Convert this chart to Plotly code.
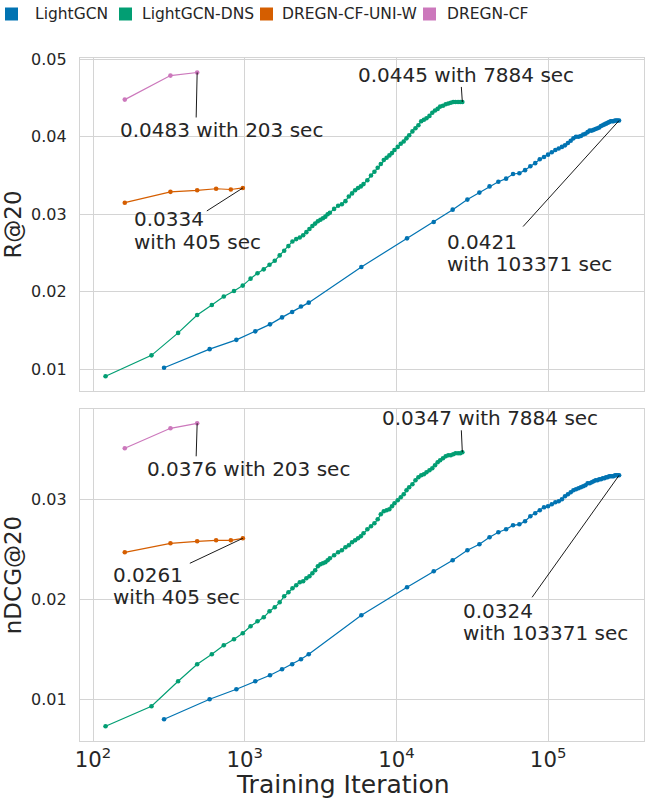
import plotly.graph_objects as go
import math

# ---------------- data ----------------
lgcn_iter = [294, 587, 881, 1174, 1468, 1762, 2055, 2349, 2642,
             5872, 11744, 17616, 23488, 29360, 35232, 41104, 46976, 52848, 58720,
             64592, 70464, 76336, 82208, 88080, 93952, 99824, 105696, 111568, 117440,
             123312, 129184, 135056, 140928, 146800, 152672, 158544, 164416, 170288, 176160,
             182032, 187904, 193776, 199648, 205520, 211392, 217264, 223136, 229008, 234880,
             240752, 246624, 252496, 258368, 264240, 270112, 275984, 281856, 287728, 293600]
lgcn_recall = [0.0102, 0.0126, 0.0138, 0.0149, 0.0158, 0.0167, 0.0174, 0.0181, 0.0186,
               0.0232, 0.0269, 0.0290, 0.0306, 0.0319, 0.0328, 0.0336, 0.0342, 0.0346, 0.0352,
               0.0353, 0.0357, 0.0362, 0.0366, 0.0371, 0.0374, 0.0377, 0.0380, 0.0383, 0.0385,
               0.0387, 0.0389, 0.0392, 0.0395, 0.0398, 0.0400, 0.0400, 0.0401, 0.0403, 0.0404,
               0.0406, 0.0408, 0.0408, 0.0409, 0.0410, 0.0411, 0.0412, 0.0414, 0.0415, 0.0416,
               0.0417, 0.0418, 0.0419, 0.0420, 0.0420, 0.0420, 0.0421, 0.0421, 0.0421, 0.0421]
lgcn_ndcg = [0.0080, 0.0100, 0.0110, 0.0118, 0.0124, 0.0130, 0.0135, 0.0140, 0.0145,
             0.0184, 0.0212, 0.0228, 0.0239, 0.0249, 0.0255, 0.0262, 0.0267, 0.0270, 0.0274,
             0.0275, 0.0278, 0.0283, 0.0286, 0.0289, 0.0292, 0.0293, 0.0295, 0.0297, 0.0298,
             0.0300, 0.0303, 0.0305, 0.0307, 0.0309, 0.0310, 0.0311, 0.0312, 0.0313, 0.0314,
             0.0316, 0.0316, 0.0317, 0.0318, 0.0319, 0.0319, 0.0320, 0.0320, 0.0321, 0.0321,
             0.0322, 0.0322, 0.0323, 0.0323, 0.0323, 0.0323, 0.0324, 0.0324, 0.0324, 0.0324]

dns_iter = [121, 243, 364, 486, 607, 728, 850, 971, 1093, 1214,
            1335, 1457, 1578, 1700, 1821, 1942, 2064, 2185, 2307, 2428,
            2549, 2671, 2792, 2914, 3035, 3156, 3278, 3399, 3521, 3642,
            3885, 4128, 4370, 4613, 4856, 5099, 5342, 5584, 5827, 6070,
            6434, 6798, 7163, 7527, 7891, 8255, 8619, 8984, 9348, 9712,
            10198, 10683, 11169, 11654, 12140,
            12747, 13354, 13961, 14568, 15175, 15782,
            16510, 17239, 17967, 18696, 19424,
            20274, 21124, 21973, 22823, 23673, 24523, 25494, 26344, 27194]
dns_recall = [0.0091, 0.0118, 0.0147, 0.0170, 0.0183, 0.0194, 0.0201, 0.0208, 0.0217, 0.0224,
              0.0229, 0.0235, 0.0240, 0.0247, 0.0253, 0.0259, 0.0265, 0.0268, 0.0270, 0.0273,
              0.0277, 0.0281, 0.0285, 0.0288, 0.0291, 0.0293, 0.0295, 0.0297, 0.0300, 0.0302,
              0.0307, 0.0311, 0.0313, 0.0317, 0.0323, 0.0327, 0.0331, 0.0334, 0.0336, 0.0339,
              0.0344, 0.0350, 0.0355, 0.0360, 0.0365, 0.0370, 0.0373, 0.0376, 0.0379, 0.0383,
              0.0387, 0.0391, 0.0394, 0.0398, 0.0402,
              0.0407, 0.0411, 0.0415, 0.0420, 0.0422, 0.0424,
              0.0427, 0.0431, 0.0434, 0.0436, 0.0439,
              0.0440, 0.0442, 0.0443, 0.0444, 0.0445, 0.0445, 0.0445, 0.0445, 0.0445]
dns_ndcg = [0.0073, 0.0093, 0.0118, 0.0135, 0.0145, 0.0154, 0.0160, 0.0166, 0.0173, 0.0178,
            0.0182, 0.0188, 0.0192, 0.0197, 0.0203, 0.0207, 0.0211, 0.0214, 0.0217, 0.0218,
            0.0221, 0.0223, 0.0226, 0.0229, 0.0233, 0.0235, 0.0236, 0.0237, 0.0239, 0.0241,
            0.0244, 0.0247, 0.0249, 0.0252, 0.0254, 0.0257, 0.0259, 0.0261, 0.0263, 0.0266,
            0.0270, 0.0273, 0.0276, 0.0280, 0.0285, 0.0288, 0.0289, 0.0290, 0.0293, 0.0296,
            0.0299, 0.0302, 0.0305, 0.0309, 0.0312,
            0.0315, 0.0319, 0.0322, 0.0324, 0.0325, 0.0327,
            0.0329, 0.0331, 0.0334, 0.0337, 0.0339,
            0.0341, 0.0343, 0.0344, 0.0344, 0.0345, 0.0346, 0.0346, 0.0346, 0.0347]

uniw_iter = [162, 324, 486, 648, 810, 972]
uniw_recall = [0.0315, 0.0329, 0.0331, 0.0333, 0.0332, 0.0334]
uniw_ndcg = [0.0247, 0.0256, 0.0258, 0.0259, 0.0259, 0.0261]

dregn_iter = [162, 324, 486]
dregn_recall = [0.0448, 0.0479, 0.0483]
dregn_ndcg = [0.0351, 0.0371, 0.0376]

series_names = ["LightGCN", "LightGCN-DNS", "DREGN-CF-UNI-W", "DREGN-CF"]
series_colors = ["#0173b2", "#029e73", "#d55e00", "#cc78bc"]
time_sec = [103371, 7884, 405, 203]

# ---------------- layout geometry (pixels) ----------------
W, H = 645, 801
ML, MR, MT, MB = 80, 1, 58, 60
PW = W - ML - MR
PH = H - MT - MB
TXT = "#262626"
GRID = "#d4d4d4"
FONT = "DejaVu Sans"
XRANGE = [1.9143, 5.632]
PX_PER_DECADE = PW / (XRANGE[1] - XRANGE[0])


def px_x(px):
    return (px - ML) / PW


def px_y(py):
    return (H - MB - py) / PH


fig = go.Figure()

xs = [lgcn_iter, dns_iter, uniw_iter, dregn_iter]
top_vals = [lgcn_recall, dns_recall, uniw_recall, dregn_recall]
bot_vals = [lgcn_ndcg, dns_ndcg, uniw_ndcg, dregn_ndcg]

for i in range(4):
    for vals, xa, ya in ((top_vals[i], "x", "y"), (bot_vals[i], "x2", "y2")):
        fig.add_trace(go.Scatter(
            x=xs[i], y=vals, mode="lines+markers", name=series_names[i],
            line=dict(color=series_colors[i], width=1.2),
            marker=dict(color=series_colors[i], size=4.6, line=dict(width=0)),
            xaxis=xa, yaxis=ya, showlegend=False))

top_dom = [px_y(391), 1.0]
bot_dom = [0.0, px_y(409)]

axis_common = dict(showgrid=True, gridcolor=GRID, gridwidth=1, showline=True,
                   linecolor=GRID, linewidth=1.2, mirror=True, zeroline=False,
                   ticks="")

fig.update_layout(
    width=W, height=H,
    margin=dict(l=ML, r=MR, t=MT, b=MB),
    paper_bgcolor="white", plot_bgcolor="white",
    font=dict(family=FONT, color=TXT),
    showlegend=False,
    xaxis=dict(type="log", range=XRANGE, domain=[0, 1], anchor="y", dtick=1,
               showticklabels=False, matches="x2", **axis_common),
    xaxis2=dict(type="log", range=XRANGE, domain=[0, 1], anchor="y2", dtick=1,
                exponentformat="power", tickfont=dict(size=17, color=TXT),
                ticklabelstandoff=0, **axis_common),
    yaxis=dict(domain=top_dom, anchor="x", range=[0.0072, 0.05017],
               tickvals=[0.01, 0.02, 0.03, 0.04, 0.05], tickformat=".2f",
               tickfont=dict(size=16, color=TXT), ticklabelstandoff=9,
               title=dict(text="R@20", font=dict(size=23, color=TXT), standoff=5),
               **axis_common),
    yaxis2=dict(domain=bot_dom, anchor="x2", range=[0.00583, 0.03903],
                tickvals=[0.01, 0.02, 0.03], tickformat=".2f",
                tickfont=dict(size=16, color=TXT), ticklabelstandoff=9,
                title=dict(text="nDCG@20", font=dict(size=23, color=TXT), standoff=5),
                **axis_common),
)

# x-axis label (sits slightly left of the axes centre, as in the original)
fig.add_annotation(xref="paper", yref="paper", x=px_x(342.5), y=px_y(785),
                   xanchor="center", yanchor="middle", showarrow=False,
                   text="Training Iteration", font=dict(family=FONT, size=25, color=TXT))

# ---------------- callouts ----------------
ANN_FONT = dict(family=FONT, size=20, color=TXT)


def callout(xref, yref, xv, yv, ax, ay, texts):
    """Leader line from the data point (pixel offsets ax, ay; ay downwards) and text lines."""
    x_end = 10 ** (math.log10(xv) + ax / PX_PER_DECADE)
    fig.add_shape(type="line", xref=xref, yref=yref, ysizemode="pixel",
                  yanchor=yv, x0=xv, x1=x_end, y0=0, y1=-ay,
                  line=dict(color="black", width=0.9))
    lx = math.log10(xv)
    for t, xs_, ys_, xa in texts:
        fig.add_annotation(x=lx, y=yv, xref=xref, yref=yref, text=t, showarrow=False,
                           xshift=xs_, yshift=ys_, xanchor=xa, yanchor="middle",
                           font=ANN_FONT)


# top panel
callout("x", "y", dregn_iter[-1], dregn_recall[-1], -1, 45,
        [(f"{dregn_recall[-1]:.4f} with {time_sec[3]} sec", 24.5, -57.8, "center")])
callout("x", "y", uniw_iter[-1], uniw_recall[-1], -36, 23,
        [(f"{uniw_recall[-1]:.4f}", -111, -31.3, "left"),
         (f"with {time_sec[2]} sec", -111, -53.6, "left")])
callout("x", "y", dns_iter[-1], dns_recall[-1], -1, -15,
        [(f"{dns_recall[-1]:.4f} with {time_sec[1]} sec", 4, 26.7, "center")])
callout("x", "y", lgcn_iter[-1], lgcn_recall[-1], -96, 106,
        [(f"{lgcn_recall[-1]:.4f}", -174, -121, "left"),
         (f"with {time_sec[0]} sec", -174, -143.3, "left")])

# bottom panel
callout("x2", "y2", dregn_iter[-1], dregn_ndcg[-1], -1, 33,
        [(f"{dregn_ndcg[-1]:.4f} with {time_sec[3]} sec", 51.3, -46, "center")])
callout("x2", "y2", uniw_iter[-1], uniw_ndcg[-1], -53, 25,
        [(f"{uniw_ndcg[-1]:.4f}", -132, -36.3, "left"),
         (f"with {time_sec[2]} sec", -132, -58.6, "left")])
callout("x2", "y2", dns_iter[-1], dns_ndcg[-1], -1, -22,
        [(f"{dns_ndcg[-1]:.4f} with {time_sec[1]} sec", 27.4, 34.4, "center")])
callout("x2", "y2", lgcn_iter[-1], lgcn_ndcg[-1], -87, 122,
        [(f"{lgcn_ndcg[-1]:.4f}", -158, -135.7, "left"),
         (f"with {time_sec[0]} sec", -158, -157.3, "left")])

# ---------------- legend (patches + labels, clipped at the right edge) ----------------
leg_sq_left = [5, 119, 260, 423]
leg_txt_left = [33, 140, 280, 445]
for i in range(4):
    fig.add_shape(type="rect", xref="paper", yref="paper",
                  x0=px_x(leg_sq_left[i]), x1=px_x(leg_sq_left[i] + 13),
                  y0=px_y(20.5), y1=px_y(7.5),
                  fillcolor=series_colors[i], line=dict(width=0))
    fig.add_annotation(xref="paper", yref="paper", x=px_x(leg_txt_left[i]), y=px_y(14),
                       xanchor="left", yanchor="middle", showarrow=False,
                       text=series_names[i], font=dict(family=FONT, size=15.5, color=TXT))

fig.write_html("out.html", config={"displayModeBar": False},
               post_script="document.body.style.margin='0px';document.body.style.overflow='hidden';")
